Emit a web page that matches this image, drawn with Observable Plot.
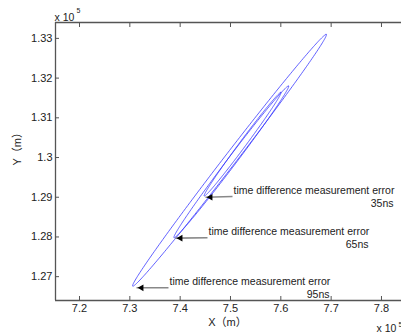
<!DOCTYPE html>
<html><head><meta charset="utf-8">
<script src="https://cdn.jsdelivr.net/npm/d3@7"></script>
<script src="https://cdn.jsdelivr.net/npm/@observablehq/plot@0.6"></script>
<style>
body{margin:0;background:#fff;}
#chart{position:relative;width:401px;height:336px;overflow:hidden;}
</style></head><body><div id="chart"></div>
<script>
// Values in units of 10^5 m
const errorLabels = ["35ns", "65ns", "95ns"];
const lowTipX  = [7.448, 7.388, 7.306];
const lowTipY  = [1.2903, 1.2798, 1.2676];
const highTipX = [7.600, 7.615, 7.690];
const highTipY = [1.3164, 1.3180, 1.3310];
const halfWidthX = [0.008, 0.011, 0.015];
const arrowTipX  = [7.4503, 7.3907, 7.3133];
const arrowTipY  = [1.2900, 1.2797, 1.2672];
const arrowTailX = [7.504, 7.4543, 7.3768];
const arrowTailY = [1.2902, 1.2798, 1.2672];
const annotationText = "time difference measurement error";
const xTicks = [7.2, 7.3, 7.4, 7.5, 7.6, 7.7, 7.8];
const yTicks = [1.27, 1.28, 1.29, 1.30, 1.31, 1.32, 1.33];
const xDomain = [7.1523, 7.8398];
const yDomain = [1.2640, 1.3340];

const rows = [];
errorLabels.forEach((lab, i) => {
  const cx = (lowTipX[i] + highTipX[i]) / 2, cy = (lowTipY[i] + highTipY[i]) / 2;
  const ux = highTipX[i] - cx, uy = highTipY[i] - cy;
  const n = 240;
  for (let k = 0; k <= n; k++) {
    const t = 2 * Math.PI * k / n;
    rows.push({error: lab, x: cx + Math.cos(t) * ux + Math.sin(t) * halfWidthX[i], y: cy + Math.cos(t) * uy});
  }
});

const fmt = d => String(+(+d).toFixed(2));
const axisColor = "#555";

const chart = Plot.plot({
  width: 401, height: 336,
  marginTop: 22, marginBottom: 36, marginLeft: 55, marginRight: 0,
  style: {fontFamily: "'Liberation Sans', Arial, 'Noto Sans CJK SC', sans-serif", fontSize: "11px", color: "#222", background: "white", overflow: "hidden"},
  x: {domain: xDomain, axis: null},
  y: {domain: yDomain, axis: null},
  marks: [
    Plot.line(rows, {x: "x", y: "y", z: "error", stroke: "#3030ff", strokeWidth: 0.9, strokeOpacity: 0.85}),
    Plot.ruleX([xDomain[0]], {stroke: axisColor, strokeWidth: 1.3}),
    Plot.ruleY([yDomain[0]], {stroke: axisColor, strokeWidth: 1.3}),
    Plot.ruleY([yDomain[1]], {stroke: axisColor, strokeWidth: 1.3}),
    Plot.axisX(xTicks, {anchor: "bottom", tickSize: -4, tickFormat: () => "", label: null, stroke: axisColor}),
    Plot.axisX(xTicks, {anchor: "top", tickSize: -4, tickFormat: () => "", label: null, stroke: axisColor}),
    Plot.axisY(yTicks, {anchor: "left", tickSize: -4, tickFormat: () => "", label: null, stroke: axisColor}),
    Plot.axisX(xTicks, {anchor: "bottom", tickSize: 0, tickPadding: 4, tickFormat: fmt, label: null, fontSize: 11, fill: "#222"}),
    Plot.axisY(yTicks, {anchor: "left", tickSize: 0, tickPadding: 3, tickFormat: fmt, label: null, fontSize: 11, fill: "#222"}),
    Plot.link(errorLabels, {x1: arrowTailX, y1: arrowTailY, x2: arrowTipX, y2: arrowTipY, stroke: "#888", strokeWidth: 1.6}),
    Plot.dot(errorLabels, {x: arrowTipX, y: arrowTipY, symbol: "triangle2", rotate: -90, r: 3.2, fill: "black", dx: 5}),
    Plot.text(errorLabels, {x: arrowTailX, y: arrowTailY, text: () => annotationText, textAnchor: "start", dx: 1, dy: -6, fontSize: 10.5, fill: "#222"}),
    Plot.text(errorLabels, {x: arrowTailX, y: arrowTailY, text: d => d, textAnchor: "end", dx: 161, dy: 7, fontSize: 10.5, fill: "#222"}),
    Plot.text(["Y（m）"], {frameAnchor: "left", dx: -38, dy: 4, rotate: -90, fontSize: 11, fill: "#222"}),
    Plot.text(["X（m）"], {frameAnchor: "bottom", dx: -1, dy: 25, fontSize: 11, fill: "#222"}),
    Plot.text(["x 10"], {frameAnchor: "top-left", dx: -1, dy: -9, textAnchor: "start", fontSize: 10.5, fill: "#222"}),
    Plot.text(["5"], {frameAnchor: "top-left", dx: 21, dy: -14, textAnchor: "start", fontSize: 7, fill: "#222"}),
    Plot.text(["x 10"], {frameAnchor: "bottom-right", dx: -25, dy: 31, textAnchor: "start", fontSize: 10.5, fill: "#222"}),
    Plot.text(["5"], {frameAnchor: "bottom-right", dx: -3, dy: 26, textAnchor: "start", fontSize: 7, fill: "#222"})
  ]
});
document.getElementById("chart").appendChild(chart);
</script>
</body></html>
